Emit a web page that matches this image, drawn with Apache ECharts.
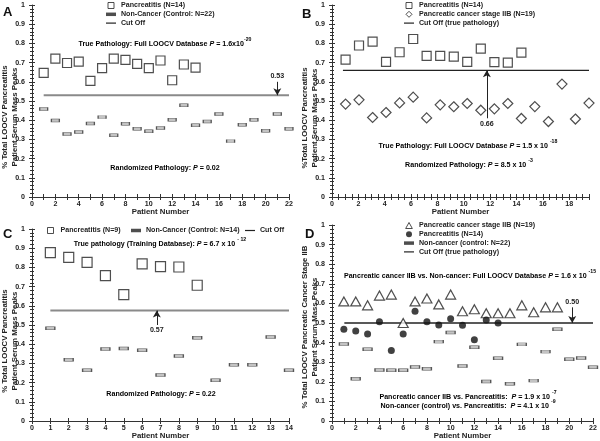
<!DOCTYPE html>
<html><head><meta charset="utf-8">
<script src="https://cdn.jsdelivr.net/npm/echarts@6/dist/echarts.min.js"></script>
<style>html,body{margin:0;padding:0;background:#fff}#c{width:600px;height:441px}</style>
</head><body><div id="c"></div>
<script>
// ---------- Panel A ----------
const aPancreatitis = [0.646,0.721,0.698,0.705,0.605,0.671,0.721,0.714,0.693,0.671,0.711,0.608,0.690,0.674];
const aControl = [0.458,0.399,0.328,0.338,0.383,0.416,0.321,0.381,0.355,0.343,0.359,0.402,0.478,0.374,0.393,0.432,0.291,0.376,0.402,0.345,0.432,0.355];
const aCutoff = 0.53;
// ---------- Panel B ----------
const bPatientX = [1.03,2.05,3.08,4.10,5.13,6.16,7.18,8.21,9.24,10.26,11.29,12.32,13.34,14.37,15.39,16.42,17.45,18.47,19.50];
const bPancreatitis = [0.716,0.789,0.809,0.704,0.754,0.823,0.735,0.735,0.731,0.704,0.773,0.702,0.700,0.752];
const bCancer = [0.484,0.506,0.414,0.440,0.490,0.520,0.412,0.480,0.470,0.487,0.452,0.459,0.487,0.409,0.471,0.393,0.588,0.406,0.489];
const bCutoff = 0.66;
// ---------- Panel C ----------
const cPancreatitis = [0.877,0.852,0.826,0.757,0.658,0.818,0.804,0.802,0.707];
const cControl = [0.483,0.319,0.264,0.375,0.378,0.368,0.240,0.339,0.434,0.212,0.293,0.293,0.438,0.264];
const cCutoff = 0.575;
// ---------- Panel D ----------
const dCancer = [0.61,0.61,0.59,0.64,0.645,0.50,0.61,0.625,0.595,0.645,0.56,0.57,0.55,0.55,0.55,0.59,0.555,0.58,0.58];
const dPancreatitis = [0.468,0.459,0.444,0.507,0.36,0.444,0.56,0.507,0.49,0.522,0.488,0.415,0.515,0.50];
const dControl = [0.393,0.216,0.366,0.260,0.259,0.259,0.276,0.267,0.405,0.452,0.281,0.376,0.202,0.320,0.190,0.391,0.206,0.354,0.468,0.315,0.321,0.274];
const dCutoff = 0.50;
// arrows: [x, from y]
const aArrow = [21, 0.60];
const bArrow = [11.75, 0.41];
const cArrow = [6.8, 0.50];
const dArrow = [20.25, 0.58];

const F = '"Liberation Sans", Arial, sans-serif';
const FS = 7.1;
const TXT = {fontFamily: F, fontWeight: 'bold', fontSize: FS, color: '#222'};
const seq = (arr) => arr.map((v, i) => [i + 1, v]);
const withX = (xs, arr) => arr.map((v, i) => [xs[i], v]);

const grids = [
  {left: 32, top: 5, width: 257, height: 192},
  {left: 332, top: 5, width: 257, height: 192},
  {left: 32, top: 229, width: 257, height: 192},
  {left: 332, top: 225, width: 261, height: 196}
].map(g => Object.assign(g, {outerBoundsMode: 'none', containLabel: false}));
const xSpec = [
  {max: 22, interval: 1, every: 2},
  {max: 19.5, interval: 0.5, every: 2},
  {max: 14, interval: 1, every: 1},
  {max: 22, interval: 1, every: 2}
];
const yNames = [
  '% Total LOOCV Pancreatitis\nPatient Serum Mass Peaks',
  '%Total LOOCV Pancreatitis\nPatient Serum Mass Peaks',
  '% Total LOOCV Pancreatitis\nPatient Serum Mass Peaks',
  '% Total LOOCV Pancreatic Cancer Stage IIB\nPatient Serum Mass Peaks'
];
const yNameShift = [32, 34, 32, 8];

function mkX(g, inside) {
  const s = xSpec[g];
  return {
    gridIndex: g, type: 'value', min: 0, max: s.max, interval: s.interval, position: 'bottom',
    axisLine: {show: !inside, onZero: false, lineStyle: {color: '#333', width: 1}},
    axisTick: {show: true, inside: inside, length: 3, lineStyle: {color: '#333', width: 1}},
    axisLabel: {show: !inside, margin: 4, ...TXT,
      formatter: v => { const r = v / s.every; return Math.abs(r - Math.round(r)) < 1e-6 ? String(Math.round(v)) : ''; }},
    splitLine: {show: false},
    name: inside ? '' : 'Patient Number', nameLocation: 'middle', nameGap: 11, nameMoveOverlap: false,
    nameTextStyle: {...TXT, fontSize: 7.8}
  };
}
function mkY(g, inside) {
  return {
    gridIndex: g, type: 'value', min: 0, max: 1, interval: 0.1, position: 'left',
    axisLine: {show: !inside, onZero: false, lineStyle: {color: '#333', width: 1}},
    axisTick: {show: true, inside: inside, length: 3, lineStyle: {color: '#333', width: 1}},
    minorTick: {show: true, splitNumber: 5, length: 2, lineStyle: {color: '#333', width: 1}},
    axisLabel: {show: !inside, margin: 7, ...TXT, formatter: v => String(+v.toFixed(1))},
    splitLine: {show: false},
    name: inside ? '' : yNames[g], nameLocation: 'middle', nameGap: 12, nameRotate: 90, nameMoveOverlap: false,
    nameTextStyle: {...TXT, fontSize: 7.8, lineHeight: 10, padding: [0, yNameShift[g], 0, 0]}
  };
}

const SQ = 'path://M0,0H10V10H0Z';
const DASH = 'path://M0,0H10V3.5H0Z';
const LINE = 'path://M0,0H10V1.2H0Z';
const DIAM = 'path://M5,0L10,5L5,10L0,5Z';
const TRI = 'path://M5,0L10,9L0,9Z';

const openStyle = {color: '#fff', borderColor: '#222', borderWidth: 1.2};
const dashStyle = {color: '#b4b4b4', borderColor: '#333', borderWidth: 0.8};

function cutSeries(name, g, x0, x1, y, color, width, arrow, lab) {
  return {
    type: 'line', name: name, xAxisIndex: g, yAxisIndex: g, data: [[x0, y], [x1, y]],
    symbol: 'none', lineStyle: {color: color, width: width}, itemStyle: {color: color}, z: 1, silent: true,
    markLine: {
      silent: true, symbol: ['none', 'arrow'], symbolSize: [6, 7],
      lineStyle: {color: '#222', width: 1, type: 'solid'},
      label: {show: true, position: 'start', formatter: lab, distance: 2, ...TXT},
      data: [[{coord: [arrow[0], arrow[1]]}, {coord: [arrow[0], y]}]]
    }
  };
}

const series = [
  // A
  {type: 'scatter', name: 'Pancreatitis (N=14)', xAxisIndex: 0, yAxisIndex: 0, data: seq(aPancreatitis), symbol: 'rect', symbolSize: 9, itemStyle: openStyle, z: 3},
  {type: 'scatter', name: 'Non-Cancer (Control: N=22)', xAxisIndex: 0, yAxisIndex: 0, data: seq(aControl), symbol: 'rect', symbolSize: [8, 3], itemStyle: dashStyle, z: 3},
  cutSeries('Cut Off', 0, 1, 22, aCutoff, '#8a8a8a', 2, aArrow, '0.53'),
  // B
  {type: 'scatter', name: 'Pancreatitis (N=14) ', xAxisIndex: 1, yAxisIndex: 1, data: withX(bPatientX, bPancreatitis), symbol: 'rect', symbolSize: 9, itemStyle: openStyle, z: 3},
  {type: 'scatter', name: 'Pancreatic cancer stage IIB (N=19)', xAxisIndex: 1, yAxisIndex: 1, data: withX(bPatientX, bCancer), symbol: 'diamond', symbolSize: 10, itemStyle: openStyle, z: 3},
  cutSeries('Cut Off (true pathology)', 1, 0.83, 19.5, bCutoff, '#222', 1.3, bArrow, '0.66'),
  // C
  {type: 'scatter', name: 'Pancreatitis (N=9)', xAxisIndex: 2, yAxisIndex: 2, data: seq(cPancreatitis), symbol: 'rect', symbolSize: 10, itemStyle: openStyle, z: 3},
  {type: 'scatter', name: 'Non-Cancer (Control: N=14)', xAxisIndex: 2, yAxisIndex: 2, data: seq(cControl), symbol: 'rect', symbolSize: [9, 3], itemStyle: dashStyle, z: 3},
  cutSeries('Cut Off ', 2, 1, 14, cCutoff, '#8a8a8a', 2, cArrow, '0.57'),
  // D
  {type: 'scatter', name: 'Pancreatic cancer stage IIB (N=19) ', xAxisIndex: 3, yAxisIndex: 3, data: seq(dCancer), symbol: 'triangle', symbolSize: [10, 9], itemStyle: openStyle, z: 3},
  {type: 'scatter', name: 'Pancreatitis (N=14)  ', xAxisIndex: 3, yAxisIndex: 3, data: seq(dPancreatitis), symbol: 'circle', symbolSize: 7, itemStyle: {color: '#111'}, z: 4},
  {type: 'scatter', name: 'Non-cancer (control: N=22)', xAxisIndex: 3, yAxisIndex: 3, data: seq(dControl), symbol: 'rect', symbolSize: [9, 3], itemStyle: dashStyle, z: 3},
  cutSeries('Cut Off (true pathology) ', 3, 1.04, 22, dCutoff, '#222', 1.3, dArrow, '0.50')
];

const legTxt = {...TXT, padding: 0};
const sqItem = {color: '#fff', borderColor: '#222', borderWidth: 1};
const solidItem = {color: '#222', borderWidth: 0};
function leg(left, top, orient, data) {
  return {orient: orient, left: left, top: top, padding: 0, itemWidth: 10, itemHeight: 6, itemGap: 1.8,
    textStyle: legTxt, selectedMode: false, data: data};
}
const legends = [
  leg(106, 2, 'vertical', [
    {name: 'Pancreatitis (N=14)', icon: SQ, itemStyle: sqItem},
    {name: 'Non-Cancer (Control: N=22)', icon: DASH, itemStyle: solidItem},
    {name: 'Cut Off', icon: LINE, itemStyle: solidItem}]),
  leg(404, 2, 'vertical', [
    {name: 'Pancreatitis (N=14) ', icon: SQ, itemStyle: sqItem},
    {name: 'Pancreatic cancer stage IIB (N=19)', icon: DIAM, itemStyle: sqItem},
    {name: 'Cut Off (true pathology)', icon: LINE, itemStyle: solidItem}]),
  leg(47, 227, 'horizontal', [{name: 'Pancreatitis (N=9)', icon: SQ, itemStyle: sqItem}]),
  leg(131, 227, 'horizontal', [{name: 'Non-Cancer (Control: N=14)', icon: DASH, itemStyle: solidItem}]),
  leg(245, 227, 'horizontal', [{name: 'Cut Off ', icon: LINE, itemStyle: solidItem}]),
  leg(404, 222, 'vertical', [
    {name: 'Pancreatic cancer stage IIB (N=19) ', icon: TRI, itemStyle: sqItem},
    {name: 'Pancreatitis (N=14)  ', icon: 'circle', itemStyle: {color: '#111', borderWidth: 0}},
    {name: 'Non-cancer (control: N=22)', icon: DASH, itemStyle: solidItem},
    {name: 'Cut Off (true pathology) ', icon: LINE, itemStyle: solidItem}])
];

const rich = {
  b: {...TXT, lineHeight: 13},
  i: {...TXT, fontStyle: 'italic', lineHeight: 13},
  s: {...TXT, fontSize: 5.2, verticalAlign: 'top', lineHeight: 6}
};
function note(x, y, parts) {
  return {type: 'text', x: x, y: y, silent: true,
    style: {text: parts, rich: rich, align: 'center', verticalAlign: 'middle', ...TXT}};
}
function letter(x, y, t) {
  return {type: 'text', x: x, y: y, silent: true, style: {text: t, fontFamily: F, fontWeight: 'bold', fontSize: 13, fill: '#111', verticalAlign: 'middle'}};
}
const graphic = [
  letter(3, 12, 'A'), letter(302, 14, 'B'), letter(3, 234, 'C'), letter(305, 234, 'D'),
  note(165, 44, '{b|True Pathology: Full LOOCV Database }{i|P}{b| = 1.6x10}{s|-20}'),
  note(165, 168, '{b|Randomized Pathology: }{i|P}{b| = 0.02}'),
  note(468, 146, '{b|True Pathology: Full LOOCV Database }{i|P}{b| = 1.5 x 10 }{s|-18}'),
  note(469, 165, '{b|Randomized Pathology: }{i|P}{b| = 8.5 x 10 }{s|-3}'),
  note(160, 244, '{b|True pathology (Training Database): }{i|P}{b| = 6.7 x 10 }{s|- 12}'),
  note(161, 394, '{b|Randomized Pathology: }{i|P}{b| = 0.22}'),
  note(470, 276, '{b|Pancreatic cancer IIB vs. Non-cancer: Full LOOCV Database }{i|P}{b| = 1.6 x 10 }{s|-15}'),
  note(468, 397, '{b|Pancreatic cancer IIB vs. Pancreatitis:  }{i|P}{b| = 1.9 x 10 }{s|-7}'),
  note(468, 406, '{b|Non-cancer (control) vs. Pancreatitis:  }{i|P}{b| = 4.1 x 10 }{s|-9}')
];

const chart = echarts.init(document.getElementById('c'), null, {renderer: 'canvas'});
chart.setOption({
  animation: false,
  backgroundColor: '#fff',
  grid: grids,
  xAxis: [0, 1, 2, 3].map(g => mkX(g, false)).concat([0, 1, 2, 3].map(g => mkX(g, true))),
  yAxis: [0, 1, 2, 3].map(g => mkY(g, false)).concat([0, 1, 2, 3].map(g => mkY(g, true))),
  legend: legends,
  series: series,
  graphic: graphic
});
</script></body></html>
